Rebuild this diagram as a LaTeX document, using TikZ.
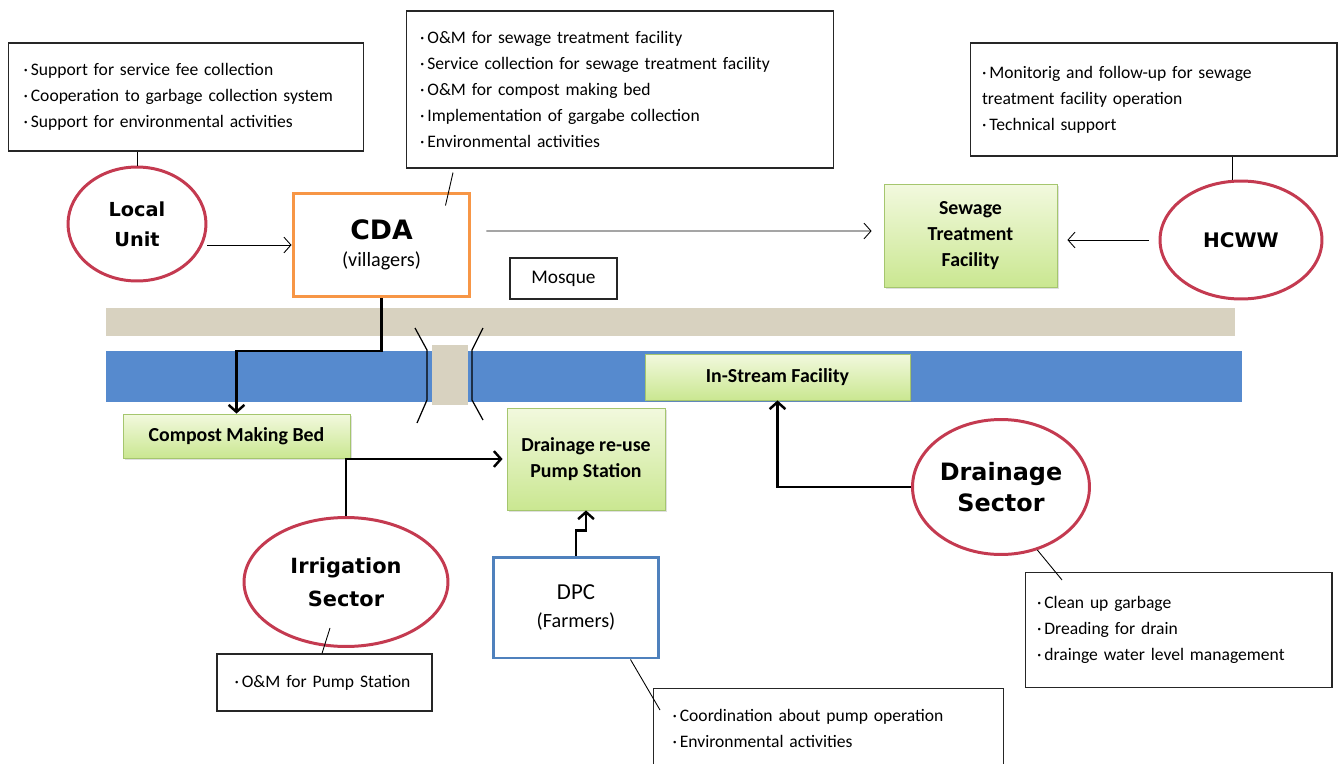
\documentclass[tikz,border=0pt]{standalone}
\usepackage{fontspec}
\setmainfont{Carlito}
\newfontfamily\heavyfont{DejaVu Sans}
\usetikzlibrary{positioning,arrows.meta,shapes.geometric,shadows}

\definecolor{sectred}{RGB}{196,58,80}
\definecolor{cdaorange}{RGB}{247,150,70}
\definecolor{dpcblue}{RGB}{79,129,189}
\definecolor{roadtan}{RGB}{216,210,192}
\definecolor{riverblue}{RGB}{86,138,206}
\definecolor{facgreen}{RGB}{165,198,110}
\definecolor{factop}{RGB}{242,249,222}
\definecolor{facbot}{RGB}{202,231,145}

\newcommand{\blt}{\textperiodcentered\,}
\newcommand{\nohyph}{\hyphenpenalty=10000\relax}

\begin{document}
\begin{tikzpicture}[x=0.02cm, y=-0.02cm,
  note/.style={draw=black!85, line width=0.6pt, fill=white, align=left, inner xsep=0.28cm, inner ysep=0pt, font=\fontsize{10}{14.7}\selectfont\nohyph},
  sector/.style={ellipse, draw=sectred, line width=1.7pt, fill=white, inner sep=0pt, align=center, font=\heavyfont\bfseries},
  org/.style={rectangle, line width=1.7pt, fill=white, align=center},
  facility/.style={draw=facgreen, line width=0.5pt, top color=factop, bottom color=facbot, drop shadow={opacity=0.25, shadow xshift=1pt, shadow yshift=-1pt}, align=center, font=\fontsize{11.3}{15}\selectfont\bfseries},
  arr/.style={-{Straight Barb[length=4pt,width=9pt]}, line width=0.5pt},
  barr/.style={-{Straight Barb[length=4pt,width=9pt]}, line width=1.4pt},
  leader/.style={line width=0.5pt},
  strip/.style={inner sep=0pt, outer sep=0pt},
]
\path[use as bounding box, fill=white] (0,0) rectangle (1340,764);

\node[strip, fill=roadtan, minimum width=22.58cm, minimum height=0.56cm] (road) at (670.5,322) {};
\node[strip, fill=riverblue, minimum width=22.72cm, minimum height=1.02cm] (river) at (674,376.5) {};
\node[strip, fill=roadtan, minimum width=0.72cm, minimum height=1.2cm] (bridge) at (450,375) {};
\draw[leader, line width=0.7pt] (415,328) -- (427,350) -- (427,400) -- (417,423);
\draw[leader, line width=0.7pt] (483,328) -- (472,350) -- (472,400) -- (483,420);

\node[note, text width=6.5cm, inner xsep=0.31cm, minimum height=2.16cm] (lunote) at (186,97)
  {\blt Support for service fee collection\\ \blt Cooperation to garbage collection system\\ \blt Support for environmental activities};
\node[note, text width=8.0cm, minimum height=3.14cm] (cdanote) at (620,89.5)
  {\blt O\&M for sewage treatment facility\\ \blt Service collection for sewage treatment facility\\ \blt O\&M for compost making bed\\ \blt Implementation of gargabe collection\\ \blt Environmental activities};
\node[note, text width=6.86cm, inner xsep=0.24cm, minimum height=2.26cm] (hcwwnote) at (1153.5,99.5)
  {\blt Monitorig and follow-up for sewage\\ treatment facility operation\\ \blt Technical support};

\node[sector, minimum width=2.76cm, minimum height=2.28cm, font=\heavyfont\bfseries\fontsize{11}{17}\selectfont] (lu) at (137,224) {Local\\Unit};
\node[org, draw=cdaorange, minimum width=3.54cm, minimum height=2.08cm] (cda) at (381.5,245)
  {{\heavyfont\bfseries\fontsize{15.2}{17}\selectfont CDA}\\[3pt] {\fontsize{11.5}{14}\selectfont (villagers)}};
\node[facility, minimum width=3.46cm, minimum height=2.06cm] (stf) at (970.5,235.5) {Sewage\\Treatment\\Facility};
\node[sector, minimum width=3.24cm, minimum height=2.36cm, font=\heavyfont\bfseries\fontsize{11.4}{14}\selectfont] (hcww) at (1241,240) {HCWW};
\node[draw=black!85, line width=0.6pt, fill=white, minimum width=2.14cm, minimum height=0.82cm, font=\fontsize{11}{13}\selectfont] (mosque) at (563.5,278.5) {Mosque};

\node[facility, minimum width=4.54cm, minimum height=0.88cm] (compost) at (236.5,436) {Compost Making Bed};
\node[facility, minimum width=5.3cm, minimum height=0.92cm] (instream) at (777.5,377) {In-Stream Facility};
\node[facility, minimum width=3.16cm, minimum height=2.04cm] (drpump) at (586,459) {Drainage re-use\\Pump Station};

\node[sector, minimum width=4.08cm, minimum height=2.58cm, font=\heavyfont\bfseries\fontsize{11.9}{19}\selectfont] (irr) at (346,582) {Irrigation\\Sector};
\node[sector, minimum width=3.54cm, minimum height=2.7cm, font=\heavyfont\bfseries\fontsize{13.6}{18}\selectfont] (drain) at (1001,487) {Drainage\\Sector};
\node[org, draw=dpcblue, minimum width=3.32cm, minimum height=2.02cm] (dpc) at (576,607.5)
  {{\fontsize{13}{16}\selectfont DPC}\\[4pt] {\fontsize{11.5}{14}\selectfont (Farmers)}};

\node[note, text width=3.6cm, inner xsep=0.35cm, minimum height=1.14cm] (irrnote) at (324.5,682.5)
  {\blt O\&M for Pump Station};
\node[note, text width=5.66cm, inner xsep=0.24cm, minimum height=2.3cm] (drnote) at (1178.5,630)
  {\blt Clean up garbage\\ \blt Dreading for drain\\ \blt drainge water level management};
\node[note, anchor=north west, text width=6.24cm, inner xsep=0.38cm, minimum height=1.6cm] (dpcnote) at (653,688)
  {\blt Coordination about pump operation\\ \blt Environmental activities};

\draw[leader] (lu.north) -- (lu.north |- lunote.south);
\draw[leader] ([shift={(-3.34cm,-0.08cm)}]cdanote.south) -- ([shift={(-0.52cm,-0.28cm)}]cda.north east);
\draw[leader] ([xshift=-0.18cm]hcww.north) -- ([xshift=-0.18cm]hcww.north |- hcwwnote.south);
\draw[leader] ([shift={(-0.32cm,0.4cm)}]irr.south) -- ([xshift=-0.05cm]irrnote.north);
\draw[leader] ([xshift=-0.6cm]dpc.south east) -- ([shift={(0.14cm,-0.44cm)}]dpcnote.north west);
\draw[leader] (drain.-60) -- ([shift={(-2.33cm,-0.16cm)}]drnote.north);

\draw[arr] (lu.east |- cda.west) -- (cda.west);
\draw[arr] ([shift={(0.3cm,0.28cm)}]cda.east) -- ([shift={(-0.24cm,0.09cm)}]stf.west);
\draw[arr] ([xshift=-0.2cm]hcww.west) -- ([xshift=0.2cm]stf.east |- hcww.west);
\draw[barr] (cda.south) |- (compost.north |- river.north) -- (compost.north);
\draw[barr] (irr.north) |- ([xshift=-0.08cm]drpump.west);
\draw[barr] (dpc.north) -- ++(0,0.5cm) -| (drpump.south);
\draw[barr] (drain.west) -| (instream.south);
\end{tikzpicture}
\end{document}
